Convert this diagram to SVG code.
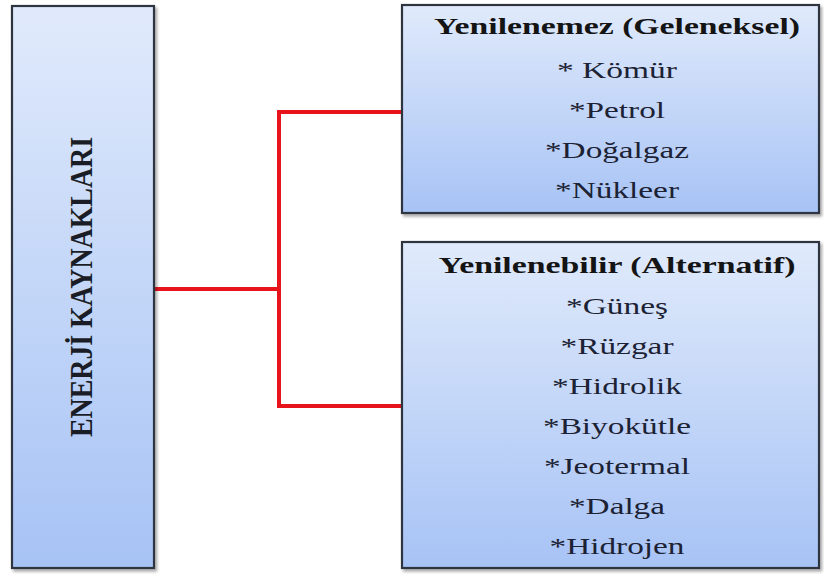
<svg xmlns="http://www.w3.org/2000/svg" width="824" height="576" viewBox="0 0 824 576">
  <style>
    .box { stroke: #2f3540; stroke-width: 2.2; filter: url(#shadow); }
    .conn { fill: none; stroke: #e8141c; stroke-width: 4; stroke-linejoin: miter; stroke-linecap: butt; }
    text { font-family: "Liberation Serif", "Times New Roman", serif; text-anchor: middle; }
    .title { font-weight: bold; font-size: 24px; fill: #141414; }
    .item { font-size: 24px; fill: #1c2233; }
    .side { font-weight: bold; font-size: 28px; fill: #1a1d26; }
  </style>
  <defs>
    <linearGradient id="fill" x1="0" y1="0" x2="0" y2="1">
      <stop offset="0" stop-color="#e0eafb"/>
      <stop offset="1" stop-color="#a7c3f5"/>
    </linearGradient>
    <filter id="shadow" x="-5%" y="-5%" width="115%" height="115%">
      <feDropShadow dx="2" dy="2.5" stdDeviation="1.5" flood-color="#000" flood-opacity="0.35"/>
    </filter>
  </defs>

  <rect width="824" height="576" fill="#ffffff"/>

  <!-- connectors -->
  <g id="connectors">
    <path class="conn" d="M154,289 H279"/>
    <path class="conn" d="M402,112 H279 V406 H402"/>
  </g>

  <!-- root node -->
  <g id="enerji-kaynaklari">
    <rect class="box" x="12" y="6" width="142" height="562" fill="url(#fill)"/>
    <text class="side" transform="translate(92 287) scale(1.15 1) rotate(-90)" x="0" y="0" textLength="300" lengthAdjust="spacingAndGlyphs">ENERJİ KAYNAKLARI</text>
  </g>

  <!-- non-renewable sources -->
  <g id="yenilenemez">
    <rect class="box" x="402" y="5" width="417" height="208" fill="url(#fill)"/>
    <text class="title" x="617" y="34" textLength="366" lengthAdjust="spacingAndGlyphs">Yenilenemez (Geleneksel)</text>
    <text class="item" x="617" y="78" textLength="120" lengthAdjust="spacingAndGlyphs">* Kömür</text>
    <text class="item" x="617" y="118" textLength="96" lengthAdjust="spacingAndGlyphs">*Petrol</text>
    <text class="item" x="617" y="158" textLength="144" lengthAdjust="spacingAndGlyphs">*Doğalgaz</text>
    <text class="item" x="617" y="198" textLength="124" lengthAdjust="spacingAndGlyphs">*Nükleer</text>
  </g>

  <!-- renewable sources -->
  <g id="yenilenebilir">
    <rect class="box" x="402" y="242" width="417" height="326" fill="url(#fill)"/>
    <text class="title" x="617" y="273" textLength="357" lengthAdjust="spacingAndGlyphs">Yenilenebilir (Alternatif)</text>
    <text class="item" x="617" y="314" textLength="102" lengthAdjust="spacingAndGlyphs">*Güneş</text>
    <text class="item" x="617" y="354" textLength="113" lengthAdjust="spacingAndGlyphs">*Rüzgar</text>
    <text class="item" x="617" y="394" textLength="130" lengthAdjust="spacingAndGlyphs">*Hidrolik</text>
    <text class="item" x="617" y="434" textLength="148" lengthAdjust="spacingAndGlyphs">*Biyokütle</text>
    <text class="item" x="617" y="474" textLength="146" lengthAdjust="spacingAndGlyphs">*Jeotermal</text>
    <text class="item" x="617" y="514" textLength="96" lengthAdjust="spacingAndGlyphs">*Dalga</text>
    <text class="item" x="617" y="554" textLength="135" lengthAdjust="spacingAndGlyphs">*Hidrojen</text>
  </g>
</svg>
